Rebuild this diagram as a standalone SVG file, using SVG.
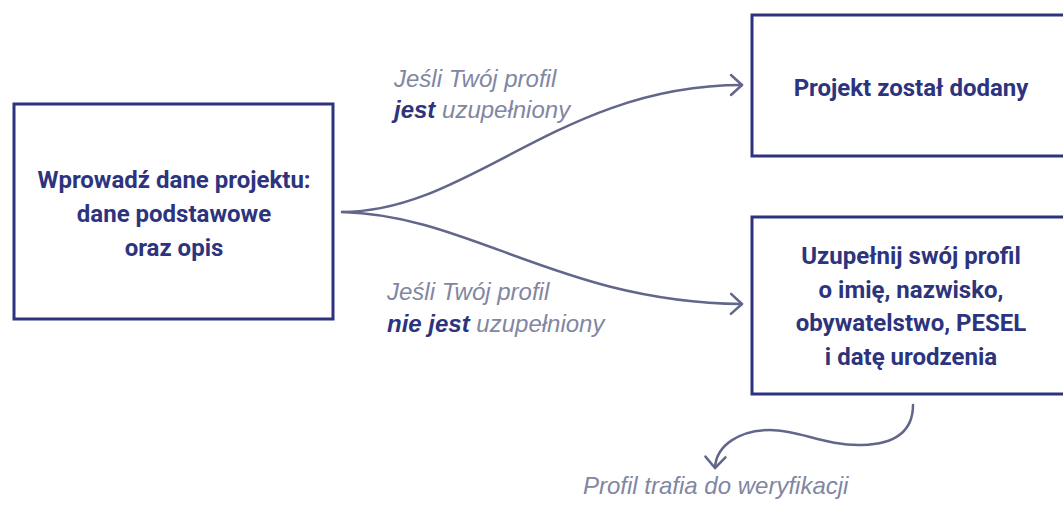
<svg xmlns="http://www.w3.org/2000/svg" width="1063" height="506" viewBox="0 0 1063 506">
  <defs>
    <style>
      .box { fill: #ffffff; stroke: #2d347d; stroke-width: 3; }
      .bt { font-family: Roboto, "Liberation Sans", sans-serif; font-weight: 700; font-size: 24px; fill: #2d347d; text-anchor: middle; }
      .lbl { font-family: "Liberation Sans", Arial, sans-serif; font-style: italic; font-size: 24px; fill: #8186a2; }
      .em { font-weight: 700; fill: #2d347d; }
      .conn { fill: none; stroke: #62668a; stroke-width: 2.5; stroke-linecap: round; }
    </style>
    <marker id="arr" markerUnits="userSpaceOnUse" markerWidth="30" markerHeight="30" refX="0" refY="0" viewBox="-15 -15 30 30" orient="auto" overflow="visible">
      <path d="M-11,-10 L0,0 L-11,10" fill="none" stroke="#62668a" stroke-width="2.5" stroke-linecap="round" stroke-linejoin="round"/>
    </marker>
  </defs>
  <rect width="1063" height="506" fill="#ffffff"/>

  <g id="connectors">
    <path class="conn" d="M342,212 C470,212 560,85 742,85" marker-end="url(#arr)"/>
    <path class="conn" d="M342,212 C470,215 560,302 742,304" marker-end="url(#arr)"/>
    <path class="conn" d="M913,405 C913,428 900,444 862,445 C825,446 800,430 770,430 C740,430 716,445 715,468" marker-end="url(#arr)"/>
  </g>

  <g id="node-start">
    <rect class="box" x="14" y="104" width="319" height="215"/>
    <text class="bt" x="174" y="188">Wprowadź dane projektu:</text>
    <text class="bt" x="174" y="222">dane podstawowe</text>
    <text class="bt" x="174" y="256">oraz opis</text>
  </g>

  <g id="node-added">
    <rect class="box" x="752" y="15" width="330" height="141"/>
    <text class="bt" x="911" y="96">Projekt został dodany</text>
  </g>

  <g id="node-complete">
    <rect class="box" x="752" y="217" width="330" height="177"/>
    <text class="bt" x="911" y="264">Uzupełnij swój profil</text>
    <text class="bt" x="911" y="298">o imię, nazwisko,</text>
    <text class="bt" x="911" y="331">obywatelstwo, PESEL</text>
    <text class="bt" x="911" y="365">i datę urodzenia</text>
  </g>

  <g id="label-yes">
    <text class="lbl" x="394" y="87">Jeśli Twój profil</text>
    <text class="lbl" x="394" y="118"><tspan class="em">jest</tspan> uzupełniony</text>
  </g>

  <g id="label-no">
    <text class="lbl" x="387" y="300">Jeśli Twój profil</text>
    <text class="lbl" x="387" y="332"><tspan class="em">nie jest</tspan> uzupełniony</text>
  </g>

  <g id="label-verify">
    <text class="lbl" x="583" y="494">Profil trafia do weryfikacji</text>
  </g>
</svg>
